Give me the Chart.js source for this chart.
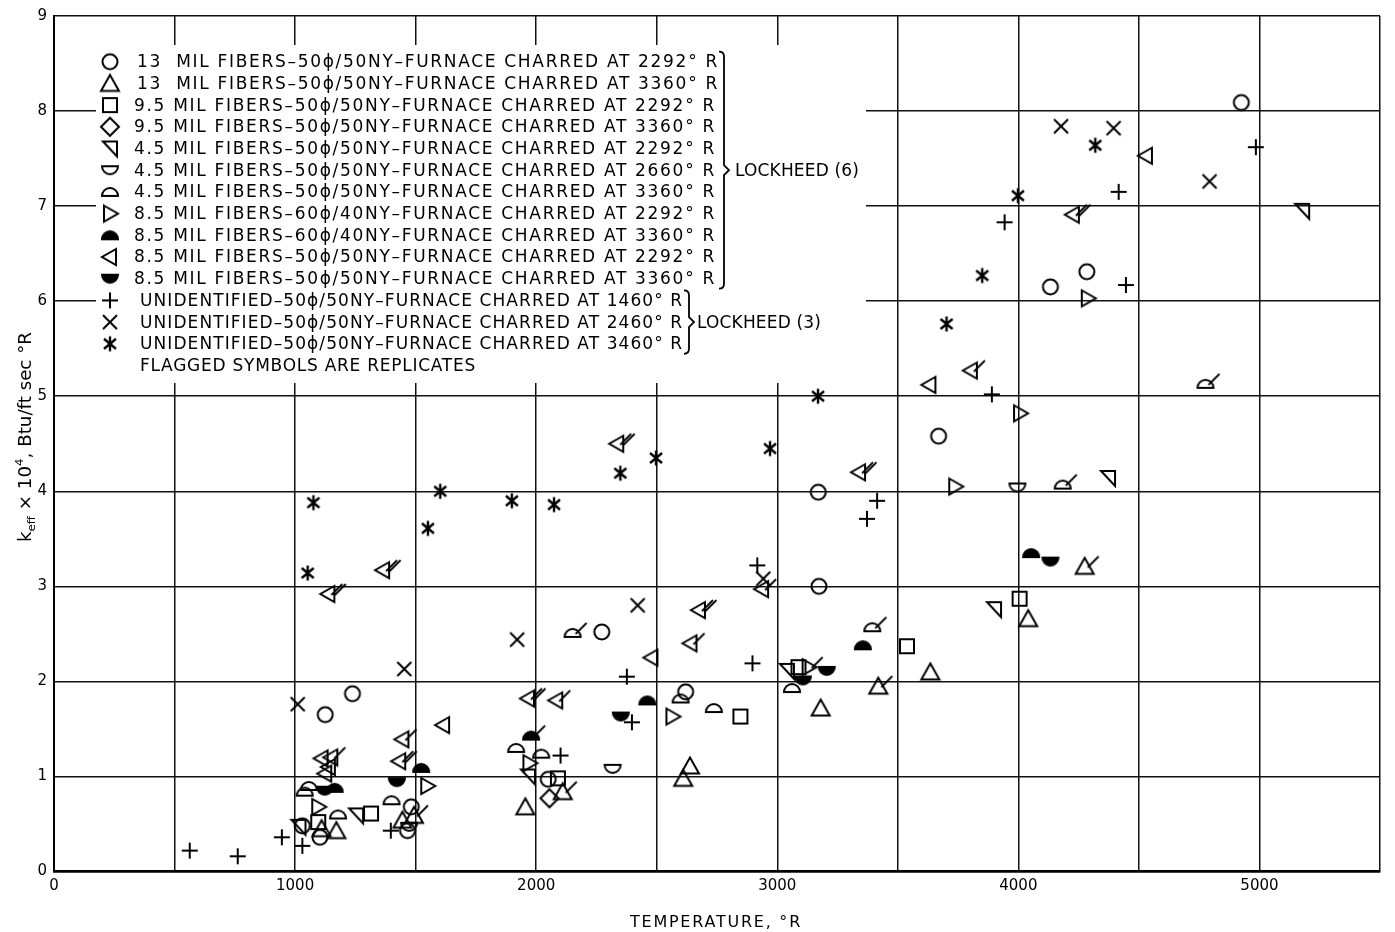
<!DOCTYPE html>
<html>
<head>
<meta charset="utf-8">
<script src="https://cdn.jsdelivr.net/npm/chart.js@4.4.1/dist/chart.umd.min.js"></script>
<style>
  html, body { margin: 0; padding: 0; background: #fff; }
  canvas { display: block; }
</style>
</head>
<body>
<canvas id="chart" width="1395" height="932"></canvas>
<script>
// each point: [temperature °R, k_eff x 10^4, replicate flags]
const mil13_2292 = [[4925, 8.09], [4133, 6.15], [4284, 6.31], [3669, 4.58], [3170, 3.99], [3173, 3.00],
    [2272, 2.52], [2620, 1.89], [1238, 1.87], [1125, 1.65], [2050, 0.97], [1103, 0.36], [1030, 0.48],
    [1482, 0.68], [1466, 0.43]];
const mil13_3360 = [[4275, 3.21, 1], [4041, 2.66], [3635, 2.10], [3419, 1.95, 1], [3180, 1.72], [2638, 1.11],
    [2610, 0.98], [1955, 0.68], [2110, 0.84, 1], [1445, 0.54], [1493, 0.59, 1], [1110, 0.45], [1171, 0.43]];
const mil95_2292 = [[4005, 2.87], [3538, 2.37], [2847, 1.63], [3088, 2.15], [2090, 0.98], [1315, 0.61], [1096, 0.52]];
const mil95_3360 = [[2055, 0.77]];
const mil45_2292 = [[5177, 6.95], [4372, 4.14], [3899, 2.76], [3040, 2.11], [1966, 1.00], [1253, 0.59], [1014, 0.47]];
const mil45_2660 = [[3996, 4.04], [2317, 1.08], [1473, 0.47]];
const mil45_3360 = [[4776, 5.13, 1], [4184, 4.07, 1], [3394, 2.57, 1], [2151, 2.51, 1], [2737, 1.72], [2599, 1.82],
    [3061, 1.93], [1917, 1.30], [2021, 1.24], [1400, 0.75], [1057, 0.90], [1040, 0.84], [1178, 0.60]];
const mil85_6040_2292 = [[4288, 6.03], [4007, 4.82], [3738, 4.05], [3130, 2.15, 1], [2565, 1.63], [1972, 1.14],
    [1548, 0.90], [1096, 0.68]];
const mil85_6040_3360 = [[4053, 3.35], [3355, 2.38], [2461, 1.80], [1979, 1.43, 1], [1523, 1.09], [1164, 0.88]];
const mil85_5050_2292 = [[4529, 7.53], [4226, 6.91, 2], [3803, 5.27, 1], [3631, 5.12], [3339, 4.20, 2], [2336, 4.50, 2],
    [2675, 2.75, 2], [2640, 2.40, 1], [2478, 2.25], [2937, 2.97, 1], [1966, 1.82, 2], [2083, 1.80, 1], [1614, 1.54],
    [1445, 1.39, 1], [1432, 1.16, 2], [1365, 3.17, 2], [1138, 2.92, 2], [1110, 1.19], [1150, 1.20, 1], [1140, 1.10],
    [1125, 1.03]];
const mil85_5050_3360 = [[4133, 3.26], [3205, 2.11], [3106, 2.01], [2351, 1.63], [1422, 0.94], [1123, 0.85]];
const unid_1460 = [[4985, 7.62], [4416, 7.15], [3943, 6.83], [4446, 6.17], [3890, 5.02], [3414, 3.90], [3372, 3.71],
    [2917, 3.22], [2897, 2.19], [2376, 2.05], [2397, 1.57], [2101, 1.22], [1397, 0.43], [945, 0.36], [1030, 0.27],
    [563, 0.22], [762, 0.16]];
const unid_2460 = [[4177, 7.84], [4395, 7.82], [4793, 7.26], [2942, 3.08], [2421, 2.80], [1921, 2.44], [1011, 1.76],
    [1453, 2.13]];
const unid_3460 = [[4319, 7.64], [3998, 7.11], [3850, 6.27], [3702, 5.76], [3169, 5.00], [2970, 4.45], [2497, 4.35],
    [2349, 4.19], [1076, 3.88], [1052, 3.14], [1551, 3.61], [1602, 4.00], [1899, 3.90], [2074, 3.86]];

const seriesNames = [
    "13  MIL FIBERS–50ϕ/50NY–FURNACE CHARRED AT 2292° R",
    "13  MIL FIBERS–50ϕ/50NY–FURNACE CHARRED AT 3360° R",
    "9.5 MIL FIBERS–50ϕ/50NY–FURNACE CHARRED AT 2292° R",
    "9.5 MIL FIBERS–50ϕ/50NY–FURNACE CHARRED AT 3360° R",
    "4.5 MIL FIBERS–50ϕ/50NY–FURNACE CHARRED AT 2292° R",
    "4.5 MIL FIBERS–50ϕ/50NY–FURNACE CHARRED AT 2660° R",
    "4.5 MIL FIBERS–50ϕ/50NY–FURNACE CHARRED AT 3360° R",
    "8.5 MIL FIBERS–60ϕ/40NY–FURNACE CHARRED AT 2292° R",
    "8.5 MIL FIBERS–60ϕ/40NY–FURNACE CHARRED AT 3360° R",
    "8.5 MIL FIBERS–50ϕ/50NY–FURNACE CHARRED AT 2292° R",
    "8.5 MIL FIBERS–50ϕ/50NY–FURNACE CHARRED AT 3360° R",
    "UNIDENTIFIED–50ϕ/50NY–FURNACE CHARRED AT 1460° R",
    "UNIDENTIFIED–50ϕ/50NY–FURNACE CHARRED AT 2460° R",
    "UNIDENTIFIED–50ϕ/50NY–FURNACE CHARRED AT 3460° R"
];
const seriesData = [mil13_2292, mil13_3360, mil95_2292, mil95_3360, mil45_2292, mil45_2660, mil45_3360,
    mil85_6040_2292, mil85_6040_3360, mil85_5050_2292, mil85_5050_3360, unid_1460, unid_2460, unid_3460];
const seriesSymbols = ["circle", "triUp", "square", "diamond", "corner", "cupOpen", "domeOpen",
    "triRight", "domeFilled", "triLeft", "cupFilled", "plus", "cross", "star"];
const groupLabels = ["LOCKHEED (6)", "LOCKHEED (3)"];
const noteText = "FLAGGED SYMBOLS ARE REPLICATES";
const xTickLabels = [0, 1000, 2000, 3000, 4000, 5000];
const xTitle = "TEMPERATURE, °R";

const FONT = '"DejaVu Sans", "Liberation Sans", sans-serif';

// ---- marker images ----
function poly(g, pts) {
    g.beginPath();
    pts.forEach((p, i) => i ? g.lineTo(p[0], p[1]) : g.moveTo(p[0], p[1]));
    g.closePath();
    g.stroke();
}

function drawSymbol(g, sym) {
    g.strokeStyle = "#000"; g.fillStyle = "#000"; g.lineWidth = 2; g.lineJoin = "miter";
    switch (sym) {
        case "circle": g.beginPath(); g.arc(0, 0, 7.5, 0, Math.PI * 2); g.stroke(); break;
        case "triUp": poly(g, [[0, -8.5], [9, 7.5], [-9, 7.5]]); break;
        case "square": g.strokeRect(-7, -7, 14, 14); break;
        case "diamond": poly(g, [[0, -9], [9, 0], [0, 9], [-9, 0]]); break;
        case "corner": poly(g, [[-7, -7], [7, -7], [7, 8]]); break;
        case "triRight": poly(g, [[-6, -8], [8, 0], [-6, 8]]); break;
        case "triLeft": poly(g, [[6, -8], [-8, 0], [6, 8]]); break;
        case "cupOpen": case "cupFilled":
            g.beginPath(); g.moveTo(-8, -4); g.lineTo(8, -4); g.arc(0, -4, 8, 0, Math.PI); g.closePath();
            if (sym === "cupFilled") g.fill();
            g.stroke(); break;
        case "domeOpen": case "domeFilled":
            g.beginPath(); g.moveTo(8, 4); g.lineTo(-8, 4); g.arc(0, 4, 8, Math.PI, Math.PI * 2); g.closePath();
            if (sym === "domeFilled") g.fill();
            g.stroke(); break;
        case "plus":
            g.beginPath(); g.moveTo(-8, 0); g.lineTo(8, 0); g.moveTo(0, -8); g.lineTo(0, 8); g.stroke(); break;
        case "cross":
            g.beginPath(); g.moveTo(-7, -7); g.lineTo(7, 7); g.moveTo(7, -7); g.lineTo(-7, 7); g.stroke(); break;
        case "star":
            g.lineWidth = 2.4;
            g.beginPath(); g.moveTo(0, -7.5); g.lineTo(0, 7.5);
            g.moveTo(-6, -5); g.lineTo(6, 5); g.moveTo(6, -5); g.lineTo(-6, 5); g.stroke(); break;
    }
}

function makeMarker(sym, flags) {
    const c = document.createElement("canvas");
    c.width = 44; c.height = 44;
    const g = c.getContext("2d");
    g.translate(22, 22);
    drawSymbol(g, sym);
    g.lineWidth = 1.8;
    for (let k = 0; k < flags; k++) {
        const o = k * 3.5;
        g.beginPath(); g.moveTo(3 + o, 1); g.lineTo(14 + o, -10); g.stroke();
    }
    return c;
}

const markers = {};
seriesSymbols.forEach(s => { markers[s] = [0, 1, 2].map(n => makeMarker(s, n)); });

// ---- helpers for lettering ----
function fitText(g, text, x, y, width, size) {
    g.font = `${size}px ${FONT}`;
    g.letterSpacing = "0px";
    const w = g.measureText(text).width;
    g.letterSpacing = ((width - w) / text.length).toFixed(2) + "px";
    g.fillText(text, x, y);
    g.letterSpacing = "0px";
}

function brace(g, x, y1, y2) {
    const ym = (y1 + y2) / 2;
    g.beginPath();
    g.moveTo(x - 5, y1); g.quadraticCurveTo(x, y1, x, y1 + 5);
    g.lineTo(x, ym - 5); g.lineTo(x + 5, ym); g.lineTo(x, ym + 5);
    g.lineTo(x, y2 - 5); g.quadraticCurveTo(x, y2, x - 5, y2);
    g.stroke();
}

const paperPlugin = {
    id: "paper",
    beforeDatasetsDraw(chart) {
        const g = chart.ctx;
        g.save();
        // the key sits on a blank patch of the grid
        g.fillStyle = "#fff";
        g.fillRect(96, 45, 770, 338);
        g.fillStyle = "#000";
        g.strokeStyle = "#000";
        g.textBaseline = "middle";
        const row0 = 61.7, step = 21.7;
        seriesNames.forEach((name, i) => {
            const y = row0 + i * step;
            g.drawImage(markers[seriesSymbols[i]][0], 110 - 22, y - 22);
            if (i < 11) fitText(g, name, i < 2 ? 137 : 134, y + 1, 582, 17);
            else fitText(g, name, 140, y + 1, 543, 17);
        });
        fitText(g, noteText, 140, row0 + 14 * step + 1, 336, 17);
        g.lineWidth = 1.8;
        brace(g, 724, row0 - 10, row0 + 10 * step + 10);
        brace(g, 689, row0 + 11 * step - 10, row0 + 13 * step + 10);
        fitText(g, groupLabels[0], 735, row0 + 5 * step + 1, 124, 17);
        fitText(g, groupLabels[1], 697, row0 + 12 * step + 1, 124, 17);
        g.restore();
    },
    afterDraw(chart) {
        const g = chart.ctx;
        g.save();
        g.fillStyle = "#000";
        g.textBaseline = "alphabetic";
        // x title
        g.textAlign = "center";
        fitText(g, xTitle, 716, 927, 172, 16);
        // y title, rotated, with subscript and superscript
        g.textAlign = "left";
        g.translate(25, 437);
        g.rotate(-Math.PI / 2);
        const parts = [["k", 17, 0], ["eff", 11, 4], [" × 10", 17, 0], ["4", 11, -8], [", Btu/ft sec °R", 17, 0]];
        let total = 0;
        parts.forEach(p => { g.font = `${p[1]}px ${FONT}`; total += g.measureText(p[0]).width; });
        const sx = 210 / total;
        g.scale(sx, 1);
        let x = -total / 2;
        parts.forEach(p => {
            g.font = `${p[1]}px ${FONT}`;
            g.fillText(p[0], x, 6 + p[2]);
            x += g.measureText(p[0]).width;
        });
        g.restore();
    }
};

new Chart(document.getElementById("chart"), {
    type: "scatter",
    data: {
        datasets: seriesData.map((pts, i) => ({
            label: seriesNames[i],
            data: pts.map(p => ({ x: p[0], y: p[1], f: p[2] || 0 })),
            pointStyle: ctx => markers[seriesSymbols[i]][ctx.raw ? ctx.raw.f : 0],
            pointRadius: 9,
            pointHoverRadius: 9,
            borderColor: "#000",
            backgroundColor: "#000"
        }))
    },
    options: {
        responsive: false,
        animation: false,
        events: [],
        layout: { padding: { top: 12, right: 15, left: 0, bottom: 0 } },
        plugins: { legend: { display: false }, tooltip: { enabled: false } },
        scales: {
            x: {
                type: "linear", min: 0, max: 5500,
                afterFit: s => { s.height = 60.5; },
                ticks: {
                    stepSize: 500, autoSkip: false, maxRotation: 0, padding: 6, color: "#000",
                    font: { family: FONT, size: 15 },
                    callback: v => xTickLabels.includes(v) ? String(v) : ""
                },
                grid: { color: "#111", lineWidth: 1.5, drawTicks: false },
                border: { color: "#000", width: 2.5 }
            },
            y: {
                min: 0, max: 9,
                afterFit: s => { s.width = 54; },
                ticks: { stepSize: 1, padding: 7, color: "#000", font: { family: FONT, size: 15 } },
                grid: { color: "#111", lineWidth: 1.5, drawTicks: false },
                border: { color: "#000", width: 2 }
            }
        }
    },
    plugins: [paperPlugin]
});
</script>
</body>
</html>
